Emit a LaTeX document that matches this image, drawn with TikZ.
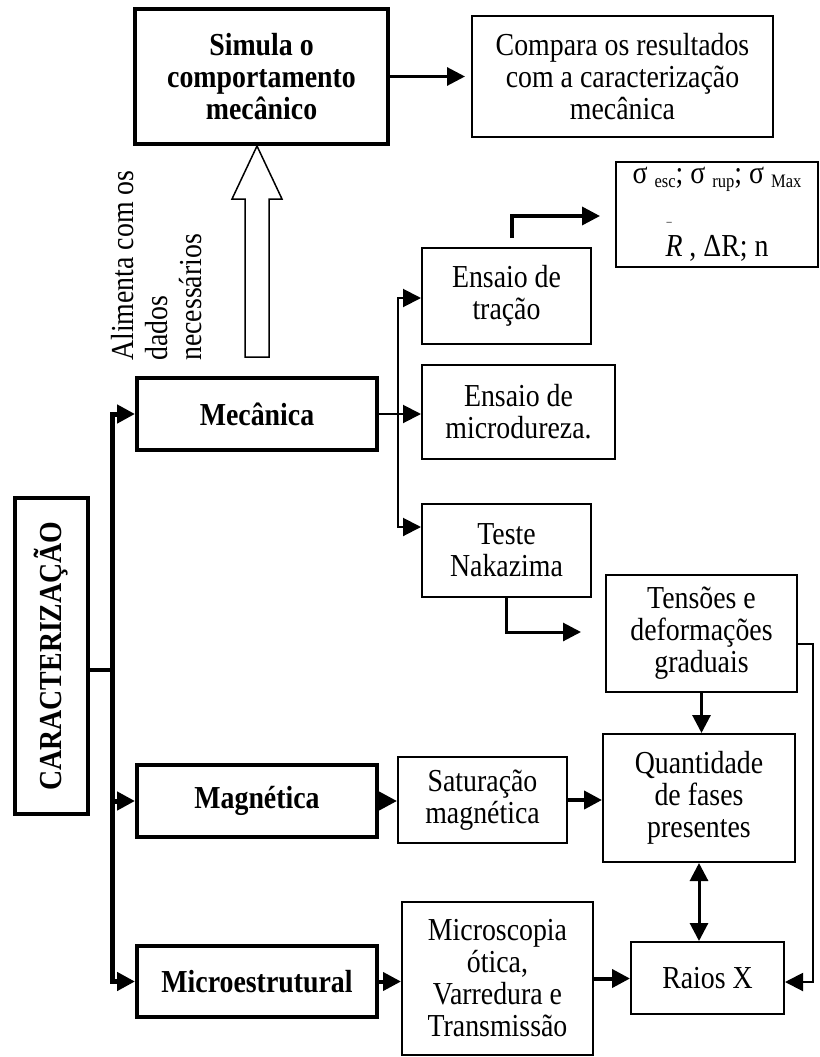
\documentclass[tikz,border=0pt]{standalone}
\usepackage{fontspec}
\setmainfont{Liberation Serif}[FakeStretch=0.87]
\usepackage{graphicx}
\usetikzlibrary{arrows.meta,calc}
\newcommand{\mysub}[1]{\raisebox{-4pt}{\fontsize{19}{19}\selectfont #1}}
\newcommand{\myRbar}{\makebox[0pt][l]{\hspace{1pt}\raisebox{31pt}{\fontsize{12}{12}\selectfont\textendash}}\textit{R}}
\begin{document}
\begin{tikzpicture}[x=1pt,y=-1pt,
  txt/.style={font=\fontsize{32}{32}\selectfont},
  box/.style={draw, line width=2pt, align=center, inner sep=0pt, txt},
  bbox/.style={box, line width=4pt, font=\fontsize{32}{32}\selectfont\bfseries},
  tip/.style={-{Triangle[length=18pt,width=18pt]}},
  dtip/.style={{Triangle[length=18pt,width=18pt]}-{Triangle[length=18pt,width=18pt]}}
]
\useasboundingbox (0,0) rectangle (819,1057);

% boxes
\node[bbox, minimum width=253pt, minimum height=135pt] (sim) at (261.5,76.5) {Simula o\\comportamento\\mecânico};
\node[box, minimum width=301pt, minimum height=121pt] (comp) at (622.5,76.5) {Compara os resultados\\com a caracterização\\mecânica};
\node[box, minimum width=202pt, minimum height=105pt] (sig) at (717,214.5) {σ \mysub{esc}; σ \mysub{rup}; σ \mysub{Max}\\[30pt]\myRbar\ , ΔR; n};
\node[box, minimum width=169pt, minimum height=96pt] (trac) at (506.5,296) {Ensaio de\\tração};
\node[box, minimum width=193pt, minimum height=94pt] (micd) at (518.5,412) {Ensaio de\\microdureza.};
\node[box, minimum width=169pt, minimum height=93pt] (naka) at (506.5,550.5) {Teste\\Nakazima};
\node[box, minimum width=191pt, minimum height=117pt] (tens) at (701.5,633.5) {Tensões e\\deformações\\graduais};
\node[box, minimum width=192pt, minimum height=128pt] (quant) at (699,798) {Quantidade\\de fases\\presentes};
\node[box, minimum width=153pt, minimum height=72pt] (raios) at (707.5,978) {Raios X};
\node[box, minimum width=169pt, minimum height=86pt] (satur) at (482.5,800) {Saturação\\magnética};
\node[box, minimum width=191pt, minimum height=153pt] (micsc) at (497.5,978.5) {Microscopia\\ótica,\\Varredura e\\Transmissão};
\node[bbox, minimum width=240pt, minimum height=72pt] (mec) at (257,414) {Mecânica};
\node[bbox, minimum width=240pt, minimum height=72pt] (mag) at (257,801) {Magnética};
\node[bbox, minimum width=240pt, minimum height=71pt] (mic) at (257,981.5) {Microestrutural};
\node[bbox, line width=4.5pt, minimum width=73pt, minimum height=316pt] (car) at (51.5,656) {\rotatebox{90}{CARACTERIZAÇÃO}};

% rotated label
\node[rotate=90, anchor=north west, align=left, inner sep=0pt, font=\fontsize{32}{34}\selectfont] (alim) at (111,361) {Alimenta com os\\dados\\necessários};

% hollow arrow
\draw[line width=1.5pt, fill=white] let \p1=(mec.north), \p2=(sim.south) in
  (\x1-12pt,\y1+19pt) -- (\x1-12pt,\y2-53pt) -- (\x1-25pt,\y2-53pt) -- (\x1,\y2)
  -- (\x1+25pt,\y2-53pt) -- (\x1+12pt,\y2-53pt) -- (\x1+12pt,\y1+19pt) -- cycle;

% connectors
\draw[line width=3pt, tip, shorten >=6pt] (sim.east) -- (comp.west);

\coordinate (br) at (398,414);
\draw[line width=2pt, tip] (mec.east) -- (micd.west |- mec.east);
\draw[line width=2pt, tip] (br) |- ([yshift=-2pt]trac.west);
\draw[line width=2pt, tip] (br) |- ([yshift=23.5pt]naka.west);

\draw[line width=3.5pt, tip, shorten >=15pt] ([xshift=5.5pt,yshift=9pt]trac.north) |- ([yshift=-1.5pt]sig.west);
\draw[line width=3pt, tip, shorten >=24pt] (naka.south) |- ([yshift=1.5pt]tens.west);
\draw[line width=2pt, tip] ([yshift=-10.5pt]tens.east) -- ++(15,0) |- ([yshift=-4pt]raios.east);
\draw[line width=3pt, tip] (tens.south) -- (tens.south |- quant.north);
\draw[line width=3pt, dtip] (quant.south) -- (quant.south |- raios.north);
\draw[line width=4pt, tip] (satur.east) -- (satur.east -| quant.west);
\draw[line width=4pt, tip] (mag.east) -- (mag.east -| satur.west);
\draw[line width=4pt, tip] (mic.east) -- (mic.east -| micsc.west);
\draw[line width=4pt, tip] (micsc.east) -- (micsc.east -| raios.west);

% trunk
\coordinate (tx) at (112,0);
\draw[line width=5pt, dtip] (mec.west) -| (mic.west -| tx) -- (mic.west);
\draw[line width=5pt, tip] (mag.west -| tx) -- (mag.west);
\draw[line width=4pt] ([yshift=-14pt]car.east) -- ([yshift=-14pt]car.east -| tx);
\end{tikzpicture}
\end{document}
